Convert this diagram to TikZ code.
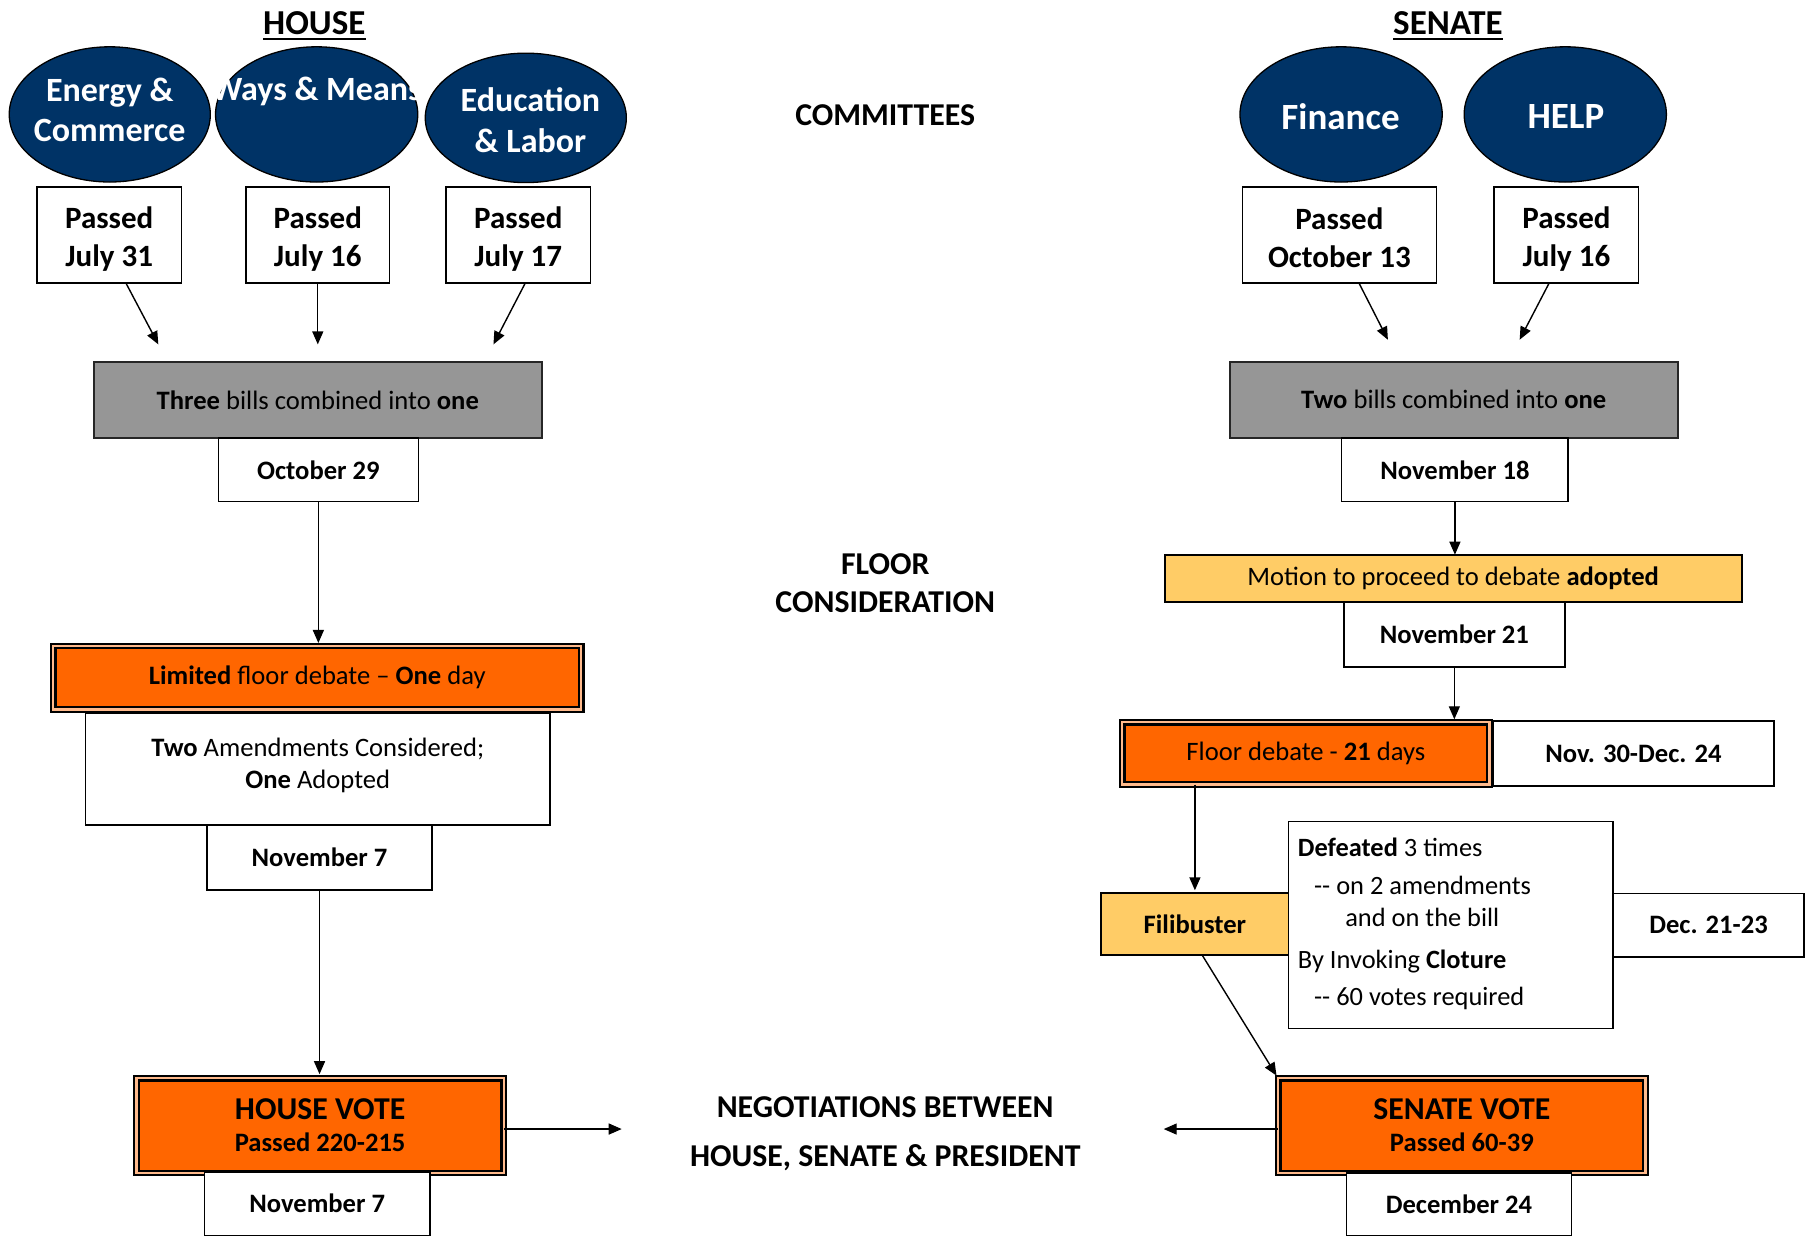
\documentclass[tikz,border=0pt]{standalone}
\usepackage{fontspec}
\setmainfont{Carlito}
\usetikzlibrary{shapes.geometric,arrows.meta,calc}
\definecolor{navy}{HTML}{003366}
\definecolor{orng}{HTML}{FF6600}
\definecolor{gry}{HTML}{969696}
\definecolor{ylw}{HTML}{FFCC66}
\begin{document}
\begin{tikzpicture}[x=1.1556pt,y=-1.1556pt,
  sz/.style 2 args={minimum width=#1*1.1556pt,minimum height=#2*1.1556pt,inner sep=0pt,outer sep=0pt},
  comm/.style={ellipse,draw=black,line width=1.3pt,fill=navy,inner sep=0pt,outer sep=0pt},
  ctext/.style={text=white,font=\bfseries\fontsize{34}{40.5}\selectfont,align=center,inner sep=0pt},
  ctextbig/.style={text=white,font=\bfseries\fontsize{37}{44}\selectfont,align=center,inner sep=0pt},
  wbox/.style={draw=black,line width=1.6pt,fill=white},
  passed/.style={wbox,font=\bfseries\fontsize{31}{38}\selectfont,align=center},
  datebox/.style={wbox,font=\bfseries\fontsize{26.6}{32}\selectfont,align=center},
  graybox/.style={draw=black!85,line width=2pt,fill=gry,font=\fontsize{26.6}{32}\selectfont},
  ybox/.style={draw=black,line width=2pt,fill=ylw,font=\fontsize{26.6}{32}\selectfont},
  obox/.style={draw=black,double=white!55!orng,double distance=2.4pt,line width=2.2pt,fill=orng,font=\fontsize{26.6}{32}\selectfont},
  arr/.style={-{Triangle[length=13pt,width=11pt]},line width=1.4pt},
  title/.style={font=\bfseries\fontsize{35}{40}\selectfont,inner sep=0pt},
  head/.style={font=\bfseries\fontsize{31.8}{38}\selectfont,align=center,inner sep=0pt},
  deftxt/.style={anchor=base west,font=\fontsize{26.4}{32}\selectfont,inner sep=0pt},
  ]
\useasboundingbox (0,0) rectangle (1568,1071);

% titles
\node[title] (hhead) at (272,20) {HOUSE};
\draw[line width=2pt] ($(hhead.base west)+(0,4)$) -- ($(hhead.base east)+(0,4)$);
\node[title] (shead) at (1253,20) {SENATE};
\draw[line width=2pt] ($(shead.base west)+(0,4)$) -- ($(shead.base east)+(0,4)$);

% committees
\node[comm,sz={174}{117}] (ec) at (95,99) {};
\node[ctext] (ect) at (95,95) {Energy \&\\Commerce};
\node[comm,sz={175}{117}] (wm) at (274,99) {};
\begin{scope}
  \clip (187,40) rectangle (362,157);
  \node[ctext] (wmt) at (274,79) {Ways \& Means};
\end{scope}
\node[comm,sz={174}{112}] (el) at (455,102) {};
\node[ctext] (elt) at (459,104) {Education\\\& Labor};
\node[comm,sz={175}{117}] (fin) at (1160.5,99) {};
\node[ctextbig] (fint) at (1160,101) {Finance};
\node[comm,sz={175}{117}] (hlp) at (1354.5,99) {};
\node[ctextbig] (hlpt) at (1355,101) {HELP};

\node[passed,sz={125}{83}] (p1) at (94.5,203.5) {\rule{0pt}{29pt}Passed\\July 31};
\node[passed,sz={124}{83}] (p2) at (275,203.5) {\rule{0pt}{29pt}Passed\\July 16};
\node[passed,sz={125}{83}] (p3) at (448.5,203.5) {\rule{0pt}{29pt}Passed\\July 17};
\node[passed,sz={168}{83}] (p4) at (1159,203.5) {\rule{0pt}{26pt}Passed\\October 13};
\node[passed,sz={125}{83}] (p5) at (1355.5,203.5) {\rule{0pt}{29pt}Passed\\July 16};

\coordinate (a1) at (137,298);
\coordinate (a2) at (275,298);
\coordinate (a3) at (427,298);
\coordinate (a4) at (1201,294);
\coordinate (a5) at (1315,294);
\draw[arr] ($(p1.south)+(14.5,0)$) -- (a1);
\draw[arr] (p2.south) -- (a2);
\draw[arr] ($(p3.south)+(6,0)$) -- (a3);
\draw[arr] ($(p4.south)+(17,0)$) -- (a4);
\draw[arr] ($(p5.south)+(-15,0)$) -- (a5);

\node[graybox,sz={388}{66}] (g1) at (275,346) {\textbf{Three} bills combined into \textbf{one}};
\node[graybox,sz={388}{66}] (g2) at (1258,346) {\textbf{Two} bills combined into \textbf{one}};
\node[datebox,sz={173}{55}] (d1) at (275.5,406.5) {October 29};
\node[datebox,sz={196}{55}] (d2) at (1259,406.5) {November 18};

\node[head] (cmt) at (766,100) {COMMITTEES};
\node[head] (flr) at (766,504.5) {FLOOR\\CONSIDERATION};

% house floor
\node[wbox,sz={402}{97},align=center,font=\fontsize{26.6}{32}\selectfont] (amd) at (275,665.5) {\textbf{Two} Amendments Considered;\\\textbf{One} Adopted\rule[-12pt]{0pt}{12pt}};
\node[obox,sz={457}{55}] (lim) at (274.5,586.5) {\textbf{Limited} floor debate -- \textbf{One} day};
\node[datebox,sz={195}{56}] (d3) at (276.5,742) {November 7};
\draw[arr,shorten >=3pt] (d1.south) -- (d1.south |- lim.north);

\node[obox,sz={318}{82},align=center] (hv) at (277,974)
  {\bfseries\fontsize{31.8}{38}\selectfont HOUSE VOTE\\\bfseries\fontsize{26.6}{37}\selectfont Passed 220-215};
\node[datebox,sz={195}{55}] (d4) at (274.5,1041.5) {November 7};
\draw[arr,shorten >=4pt] (d3.south) -- (d3.south |- hv.north);

\coordinate (n1) at (538,977);
\draw[arr] (hv.east |- n1) -- (n1);
\node[head,font=\bfseries\fontsize{31.8}{48.5}\selectfont] (neg) at (766,981) {NEGOTIATIONS BETWEEN\\HOUSE, SENATE \& PRESIDENT};

% senate floor
\node[ybox,sz={499}{41}] (mot) at (1257.5,500.5) {Motion to proceed to debate \textbf{adopted}};
\draw[arr] (d2.south) -- (d2.south |- mot.north);
\node[datebox,sz={191}{56}] (d5) at (1258.5,549) {November 21};
\node[datebox,sz={243}{56}] (d6) at (1413.5,652) {Nov. 30-Dec. 24};
\node[obox,sz={318}{54}] (fd) at (1130,652) {Floor debate - \textbf{21} days};
\draw[arr,shorten >=3pt] (d5.south) -- (d5.south |- fd.north);

\node[ybox,sz={162}{53},font=\bfseries\fontsize{26.6}{32}\selectfont] (fil) at (1034,799.5) {Filibuster};
\node[wbox,sz={281}{179}] (def) at (1255.5,800.5) {};
\node[datebox,sz={165}{55}] (d7) at (1478.5,800.5) {Dec. 21-23};
\node[deftxt] (t1) at (1123,741) {\textbf{Defeated} 3 times};
\node[deftxt] (t2) at (1137,774) {-{}- on 2 amendments};
\node[deftxt] (t3) at (1164,802) {and on the bill};
\node[deftxt] (t4) at (1123,838) {By Invoking \textbf{Cloture}};
\node[deftxt] (t5) at (1137,870) {-{}- 60 votes required};
\draw[arr,shorten >=3pt] (fd.south -| fil.north) -- (fil.north);

\node[obox,sz={318}{82},align=center] (sv) at (1265,974)
  {\bfseries\fontsize{31.8}{38}\selectfont SENATE VOTE\\\bfseries\fontsize{26.6}{37}\selectfont Passed 60-39};
\node[datebox,sz={195}{54}] (d8) at (1262.5,1042) {December 24};
\draw[arr,shorten >=3pt] ($(fil.south)+(6,0)$) -- (sv.north west);
\coordinate (n2) at (1007,977);
\draw[arr] (sv.west |- n2) -- (n2);
\end{tikzpicture}
\end{document}
